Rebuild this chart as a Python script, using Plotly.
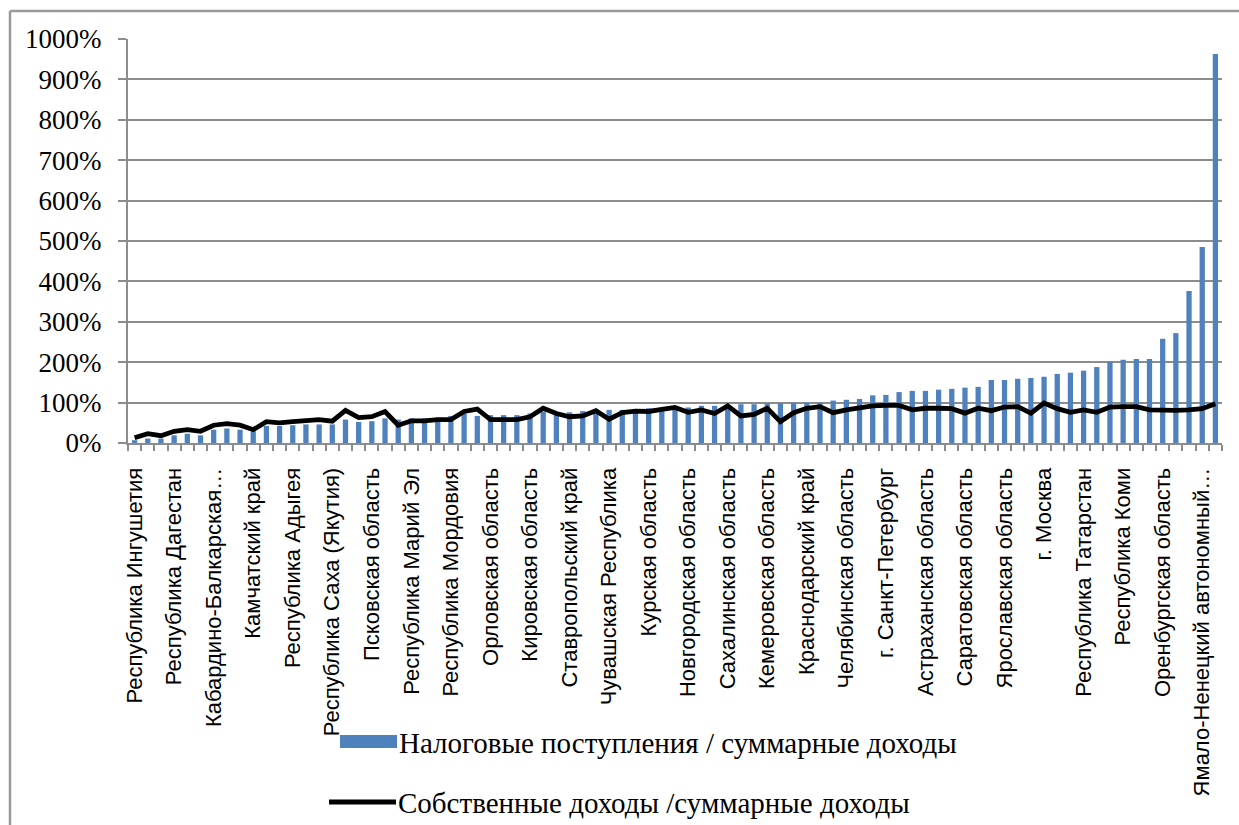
import plotly.graph_objects as go

# Regions sorted by share of tax revenue in total revenue; every third one is labelled
tick_labels = [
    "Республика Ингушетия", "Республика Дагестан", "Кабардино-Балкарская…",
    "Камчатский край", "Республика Адыгея", "Республика Саха (Якутия)",
    "Псковская область", "Республика Марий Эл", "Республика Мордовия",
    "Орловская область", "Кировская область", "Ставропольский край",
    "Чувашская Республика", "Курская область", "Новгородская область",
    "Сахалинская область", "Кемеровская область", "Краснодарский край",
    "Челябинская область", "г. Санкт-Петербург", "Астраханская область",
    "Саратовская область", "Ярославская область", "г. Москва",
    "Республика Татарстан", "Республика Коми", "Оренбургская область",
    "Ямало-Ненецкий автономный…",
]

# Налоговые поступления / суммарные доходы, %
tax_share = [
    7, 11, 11, 19, 23, 19, 33, 36, 33, 29, 42, 42, 44, 46, 46, 46, 58, 52, 54, 61, 58,
    61, 61, 62, 67, 73, 67, 69, 69, 69, 73, 78, 69, 76, 79, 78, 82, 82, 84, 86, 83,
    90, 88, 92, 92, 94, 96, 96, 98, 98, 100, 100, 100, 105, 107, 109, 118, 119, 126, 129, 129, 132,
    134, 137, 139, 156, 156, 159, 161, 164, 171, 174, 179, 188, 201, 206, 208, 208, 258, 272, 376, 485, 963,
]

# Собственные доходы / суммарные доходы, %
own_share = [
    13, 23, 18, 29, 33, 29, 44, 48, 44, 33, 53, 50, 53, 56, 58, 54, 81, 63, 65, 78, 44,
    55, 55, 58, 58, 78, 84, 58, 58, 58, 65, 86, 73, 65, 67, 80, 59, 75, 79, 78, 83,
    88, 76, 82, 73, 92, 67, 71, 86, 53, 75, 86, 90, 75, 82, 86, 92, 93, 93, 82, 86, 86,
    85, 74, 86, 80, 89, 90, 74, 99, 85, 76, 82, 76, 89, 90, 90, 82, 81, 81, 82, 85, 97,
]

series_names = ["Налоговые поступления / суммарные доходы",
                "Собственные доходы /суммарные доходы"]

BAR_COLOR = "#4F81BD"
GRID = "#8C8C8C"
SERIF = "Liberation Serif"
SANS = "Liberation Sans"
n = len(tax_share)
idx = list(range(n))

W, H = 1239, 825
L, R, T, B = 128, 17, 39, 382
PW, PH = W - L - R, H - T - B


def px(x):
    return (x - L) / PW


def py(y):
    return (H - B - y) / PH


fig = go.Figure()
fig.add_trace(go.Bar(x=idx, y=tax_share, width=0.4, marker_color=BAR_COLOR,
                     marker_line_width=0, name=series_names[0], showlegend=False))
fig.add_trace(go.Scatter(x=idx, y=own_share, mode="lines", name=series_names[1],
                         line=dict(color="black", width=4.8), showlegend=False))

# legend drawn below the plot: swatch + caption
shapes = [
    dict(type="rect", xref="paper", yref="paper", x0=px(340), x1=px(397),
         y0=py(748), y1=py(735), fillcolor=BAR_COLOR, line_width=0),
    dict(type="line", xref="paper", yref="paper", x0=px(329), x1=px(396),
         y0=py(802), y1=py(802), line=dict(color="black", width=4.8)),
    # chart frame
    dict(type="line", xref="paper", yref="paper", x0=px(10), x1=px(10),
         y0=py(11), y1=py(830), line=dict(color="#9A9A9A", width=2.5)),
    dict(type="line", xref="paper", yref="paper", x0=px(10), x1=px(1245),
         y0=py(11), y1=py(11), line=dict(color="#9A9A9A", width=2.5)),
]
annotations = [
    dict(xref="paper", yref="paper", x=px(397), y=py(743), xanchor="left",
         yanchor="middle", text=series_names[0], showarrow=False,
         font=dict(family=SERIF, size=29, color="black")),
    dict(xref="paper", yref="paper", x=px(396), y=py(803), xanchor="left",
         yanchor="middle", text=series_names[1], showarrow=False,
         font=dict(family=SERIF, size=29, color="black")),
]

fig.update_layout(
    width=W, height=H,
    margin=dict(l=L, r=R, t=T, b=B),
    paper_bgcolor="white", plot_bgcolor="white",
    bargap=0.6,
    shapes=shapes,
    annotations=annotations,
    xaxis=dict(
        range=[-0.5, n - 0.5],
        tickmode="array", tickvals=idx[::3], ticktext=tick_labels,
        tickangle=-90, ticks="", ticklabelstandoff=14,
        tickfont=dict(family=SANS, size=22, color="black"),
        showline=True, linecolor=GRID, linewidth=2,
        showgrid=False, zeroline=False,
        minor=dict(tickmode="array", tickvals=[i - 0.5 for i in range(n + 1)],
                   ticks="outside", ticklen=6, tickcolor=GRID, tickwidth=1.5,
                   showgrid=False),
    ),
    yaxis=dict(
        range=[0, 1000], tickvals=list(range(0, 1001, 100)),
        ticktext=[f"{v}%" for v in range(0, 1001, 100)],
        ticks="outside", ticklen=8, tickcolor=GRID, tickwidth=1.5,
        ticklabelstandoff=11,
        tickfont=dict(family=SERIF, size=27, color="black"),
        showline=True, linecolor=GRID, linewidth=2,
        showgrid=True, gridcolor=GRID, gridwidth=1.5, zeroline=False,
    ),
)

fig.write_html("out.html")
